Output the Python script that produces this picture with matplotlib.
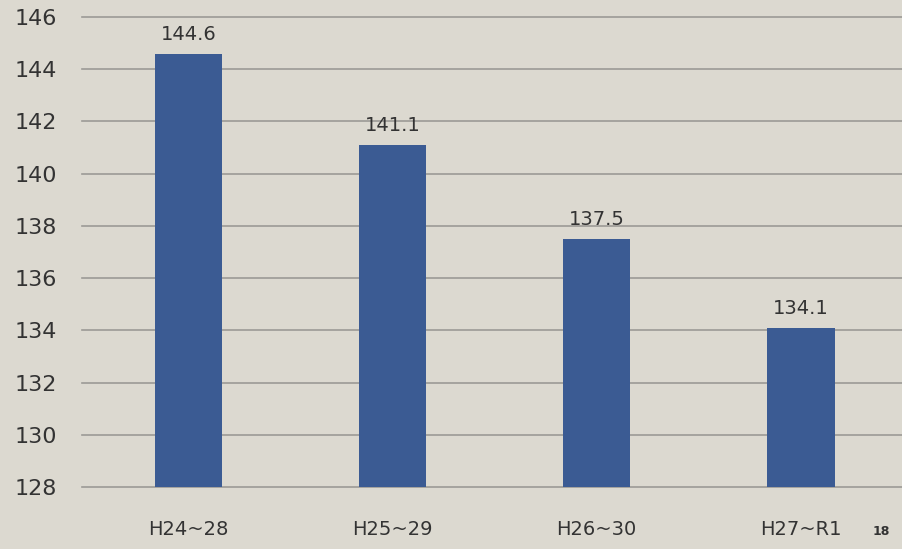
import matplotlib.pyplot as plt

periods = ['H24~28', 'H25~29', 'H26~30', 'H27~R1']
values = [144.6, 141.1, 137.5, 134.1]
yticks = [128, 130, 132, 134, 136, 138, 140, 142, 144, 146]

bg = '#dcd9d0'
bar_color = '#3b5b93'
text_color = '#333333'

fig = plt.figure(figsize=(9.03, 5.49), dpi=100, facecolor=bg)
ax = fig.add_axes([0.091, 0.113, 0.909, 0.856], facecolor=bg)

x = range(len(periods))
bars = ax.bar(x, values, width=0.33, color=bar_color, zorder=3)

for b, v in zip(bars, values):
    ax.annotate(f'{v:.1f}', (b.get_x() + b.get_width() / 2, v),
                xytext=(0, 7), textcoords='offset points',
                ha='center', va='bottom', fontsize=14, color=text_color)

ax.set_ylim(128, 146)
ax.set_xlim(-0.52, 3.5)
ax.set_yticks(yticks)
ax.set_xticks(list(x))
ax.set_xticklabels(periods)
ax.grid(axis='y', color='#9c9a96', linewidth=1.2, zorder=0)
for gl in ax.get_ygridlines():
    gl.set_clip_on(False)
for s in ax.spines.values():
    s.set_visible(False)
ax.tick_params(axis='y', length=0, pad=18, labelsize=16, labelcolor=text_color)
ax.tick_params(axis='x', length=0, pad=24, labelsize=14, labelcolor=text_color)

fig.text(0.985, 0.02, '18', fontsize=9, fontweight='bold', color=text_color,
         ha='right', va='bottom')

fig.savefig('out.png', dpi=100, facecolor=bg)
